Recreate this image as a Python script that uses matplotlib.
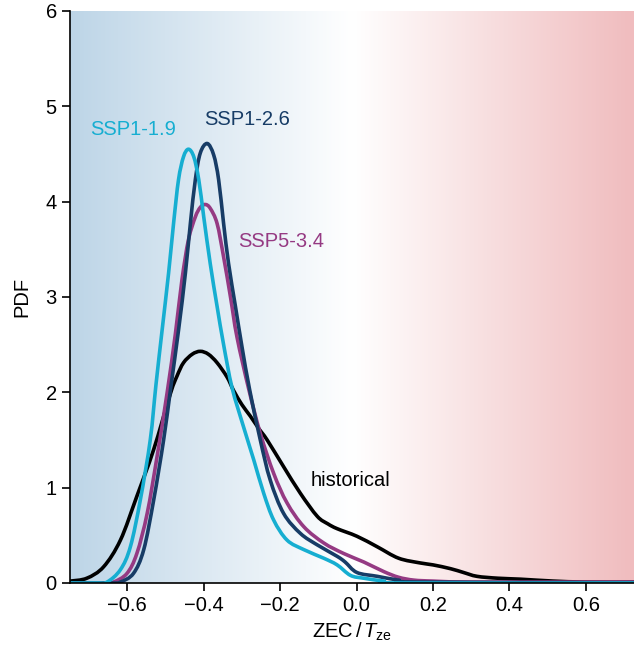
import numpy as np
import matplotlib
matplotlib.use("Agg")
import matplotlib.pyplot as plt
from matplotlib.colors import LinearSegmentedColormap
from matplotlib.path import Path
from matplotlib.patches import PathPatch

plt.rcParams['font.family'] = ['Liberation Sans', 'DejaVu Sans']
plt.rcParams['mathtext.fontset'] = 'custom'
plt.rcParams['mathtext.rm'] = 'Liberation Sans'
plt.rcParams['mathtext.it'] = 'Liberation Sans:italic'

# curves (x = ZEC/Tze, y = PDF)
hist_x = [-0.749, -0.706, -0.662, -0.618, -0.575, -0.531, -0.487, -0.47, -0.453, -0.43,
          -0.409, -0.388, -0.365, -0.339, -0.322, -0.300, -0.278, -0.256, -0.234, -0.191,
          -0.147, -0.103, -0.075, -0.051, 0.001, 0.054, 0.110, 0.167, 0.20, 0.246,
          0.28, 0.315, 0.37, 0.429, 0.515, 0.60, 0.73]
hist_y = [0.02, 0.05, 0.17, 0.45, 0.91, 1.40, 1.99, 2.17, 2.31, 2.40,
          2.43, 2.40, 2.31, 2.16, 2.02, 1.87, 1.75, 1.62, 1.50, 1.22,
          0.94, 0.70, 0.62, 0.57, 0.49, 0.38, 0.26, 0.21, 0.19, 0.15,
          0.11, 0.07, 0.05, 0.04, 0.02, 0.01, 0.01]

ssp119_x = [-0.75, -0.68, -0.653, -0.618, -0.592, -0.566, -0.540, -0.525, -0.509, -0.492,
            -0.479, -0.466, -0.453, -0.440, -0.426, -0.413, -0.400, -0.383, -0.365, -0.348,
            -0.326, -0.296, -0.269, -0.243, -0.217, -0.182, -0.138, -0.086, -0.051, -0.016,
            0.019, 0.071, 0.12, 0.73]
ssp119_y = [0.0, 0.0, 0.01, 0.14, 0.38, 0.87, 1.50, 2.08, 2.65, 3.25,
            3.77, 4.23, 4.47, 4.55, 4.47, 4.23, 3.84, 3.35, 2.90, 2.50,
            2.05, 1.64, 1.29, 0.94, 0.66, 0.45, 0.35, 0.26, 0.19, 0.08,
            0.05, 0.02, 0.0, 0.0]

ssp126_x = [-0.75, -0.64, -0.618, -0.584, -0.557, -0.531, -0.505, -0.487, -0.466, -0.448,
            -0.435, -0.422, -0.409, -0.391, -0.374, -0.361, -0.348, -0.335, -0.317, -0.300,
            -0.280, -0.252, -0.226, -0.191, -0.147, -0.103, -0.051, -0.03, 0.001, 0.054,
            0.11, 0.16, 0.73]
ssp126_y = [0.0, 0.0, 0.01, 0.10, 0.35, 0.87, 1.50, 2.03, 2.65, 3.25,
            3.77, 4.23, 4.51, 4.61, 4.49, 4.23, 3.77, 3.35, 2.90, 2.48,
            2.03, 1.50, 1.08, 0.73, 0.52, 0.40, 0.28, 0.22, 0.11, 0.07,
            0.03, 0.01, 0.0]

ssp534_x = [-0.75, -0.66, -0.636, -0.601, -0.575, -0.548, -0.522, -0.496, -0.474, -0.457,
            -0.440, -0.422, -0.409, -0.396, -0.383, -0.365, -0.348, -0.330, -0.313, -0.282,
            -0.252, -0.217, -0.182, -0.138, -0.086, -0.034, 0.019, 0.071, 0.11, 0.15,
            0.20, 0.30, 0.73]
ssp534_y = [0.0, 0.0, 0.01, 0.10, 0.31, 0.73, 1.33, 1.99, 2.62, 3.18,
            3.60, 3.84, 3.94, 3.97, 3.93, 3.77, 3.42, 3.00, 2.58, 2.03,
            1.57, 1.15, 0.84, 0.59, 0.42, 0.31, 0.22, 0.12, 0.06, 0.03,
            0.02, 0.01, 0.01]

series = [
    (hist_x, hist_y, '#000000', 'historical', -0.016, 1.07),
    (ssp534_x, ssp534_y, '#953a83', 'SSP5-3.4', -0.197, 3.58),
    (ssp126_x, ssp126_y, '#173c66', 'SSP1-2.6', -0.286, 4.86),
    (ssp119_x, ssp119_y, '#16aed1', 'SSP1-1.9', -0.584, 4.76),
]

xmin, xmax = -0.75, 0.726


def smooth_path(xs, ys):
    # bezier path through the read points (catmull-rom handles)
    p = np.column_stack([xs, ys])
    verts = [p[0]]
    codes = [Path.MOVETO]
    for i in range(len(p) - 1):
        p0 = p[i - 1] if i > 0 else p[i]
        p3 = p[i + 2] if i + 2 < len(p) else p[i + 1]
        c1 = p[i] + (p[i + 1] - p0) / 6.0
        c2 = p[i + 1] - (p3 - p[i]) / 6.0
        verts += [c1, c2, p[i + 1]]
        codes += [Path.CURVE4] * 3
    return Path(verts, codes)


fig = plt.figure(figsize=(6.34, 6.53), dpi=100)
ax = fig.add_axes([0.1104, 0.1072, 0.8896, 0.876])

cmap = LinearSegmentedColormap.from_list(
    'bg', [(0.0, '#bdd5e7'), (0.5, '#ffffff'), (1.0, '#f0bcbe')])
grad = np.linspace(0, 1, 256).reshape(1, -1)
ax.imshow(grad, cmap=cmap, extent=[xmin, xmax, 0, 6], aspect='auto',
          interpolation='bicubic', zorder=0)

for xs, ys, col, lab, tx, ty in series:
    patch = PathPatch(smooth_path(xs, ys), facecolor='none', edgecolor=col,
                      lw=2.6, capstyle='round', joinstyle='round', zorder=2)
    ax.add_patch(patch)
    ax.text(tx, ty, lab, color=col, fontsize=14.5, ha='center', va='center', zorder=3)

ax.set_xlim(xmin, xmax)
ax.set_ylim(0, 6)
ax.set_xticks([-0.6, -0.4, -0.2, 0.0, 0.2, 0.4, 0.6])
ax.set_xticklabels(['\u22120.6', '\u22120.4', '\u22120.2', '0.0', '0.2', '0.4', '0.6'])
ax.set_yticks([0, 1, 2, 3, 4, 5, 6])
ax.tick_params(labelsize=14.5, length=6, width=1.2, direction='out')
for s in ['top', 'right']:
    ax.spines[s].set_visible(False)
for s in ['left', 'bottom']:
    ax.spines[s].set_linewidth(1.2)
ax.set_ylabel('PDF', fontsize=14.5, labelpad=10)
ax.set_xlabel(r'ZEC$\,/\,T_{\mathrm{ze}}$', fontsize=14.5)

fig.savefig('out.png', dpi=100)
